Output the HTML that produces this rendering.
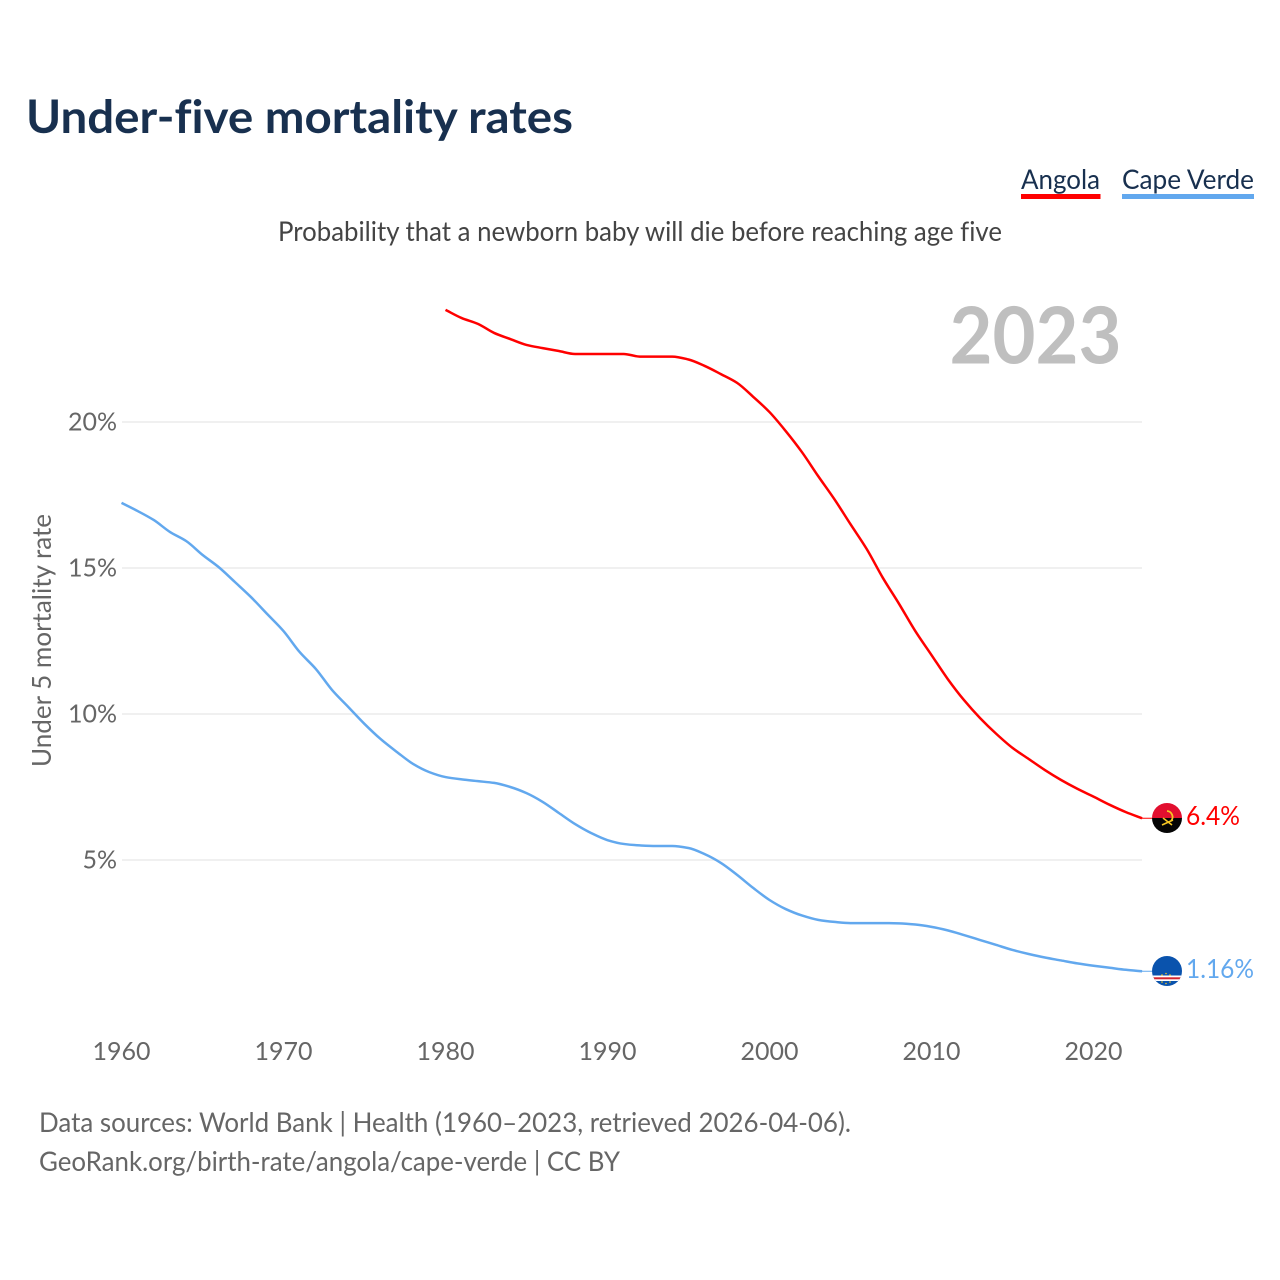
<!DOCTYPE html>
<html>
<head>
<meta charset="utf-8">
<title>Under-five mortality rates</title>
<style>
html,body{margin:0;padding:0;background:#fff;width:1280px;height:1280px;overflow:hidden}
svg{display:block}
text{font-family:"Lato","Carlito","Liberation Sans",sans-serif;font-variant-ligatures:none}
</style>
</head>
<body>
<svg id="chart" width="1280" height="1280" viewBox="0 0 1280 1280" xmlns="http://www.w3.org/2000/svg">
  <defs>
    <clipPath id="clip-ao"><circle cx="1167" cy="818" r="15"/></clipPath>
    <clipPath id="clip-cv"><circle cx="1167" cy="971" r="15"/></clipPath>
  </defs>
  <text x="26" y="133" font-size="46" font-weight="700" fill="#18304f" textLength="547" lengthAdjust="spacingAndGlyphs">Under-five mortality rates</text>
  <g>
    <g>
      <text x="1021" y="189" font-size="27" fill="#18304f" textLength="79" lengthAdjust="spacingAndGlyphs">Angola</text>
      <rect x="1021" y="194" width="79.500" height="5" fill="#ff0000"/>
    </g>
    <g>
      <text x="1122" y="189" font-size="27" fill="#18304f" textLength="132" lengthAdjust="spacingAndGlyphs">Cape Verde</text>
      <rect x="1122" y="194" width="132" height="5" fill="#62a8ee"/>
    </g>
  </g>
  <text x="278" y="241" font-size="27" fill="#444444" textLength="724" lengthAdjust="spacingAndGlyphs">Probability that a newborn baby will die before reaching age five</text>
  <text x="949.500" y="363.500" font-size="79" font-weight="700" fill="#bfbfbf" textLength="172" lengthAdjust="spacingAndGlyphs">2023</text>
  <text transform="translate(51,767) rotate(-90)" font-size="26" fill="#666666" textLength="253" lengthAdjust="spacingAndGlyphs">Under 5 mortality rate</text>
  <g id="grid"></g>
  <g id="yticks"></g>
  <g id="xticks"></g>
  <g id="series"></g>

  <g clip-path="url(#clip-ao)">
    <rect x="1150" y="801" width="34" height="17" fill="#e20f2f"/>
    <rect x="1150" y="818" width="34" height="17" fill="#050505"/>
    <path d="M1167 811 A6 6 0 0 1 1171 821" fill="none" stroke="#f5c623" stroke-width="1.800"/>
    <path d="M1162 825 L1173 820" stroke="#f5c623" stroke-width="1.600"/>
    <path d="M1163 818 L1172 825" stroke="#f5c623" stroke-width="1.600"/>
  </g>
  <g clip-path="url(#clip-cv)">
    <rect x="1150" y="954" width="34" height="34" fill="#0a53ad"/>
    <rect x="1150" y="975.500" width="34" height="5.500" fill="#ffffff"/>
    <rect x="1150" y="977.300" width="34" height="2" fill="#d3252f"/>
    <circle cx="1162" cy="975" r="0.800" fill="#f5c623"/>
    <circle cx="1166" cy="973.500" r="0.800" fill="#f5c623"/>
    <circle cx="1170" cy="975" r="0.800" fill="#f5c623"/>
    <circle cx="1162" cy="982" r="0.800" fill="#f5c623"/>
    <circle cx="1166" cy="983.500" r="0.800" fill="#f5c623"/>
    <circle cx="1170" cy="982" r="0.800" fill="#f5c623"/>
  </g>
  <text x="1186" y="825" font-size="26" fill="#ff0000" textLength="54" lengthAdjust="spacingAndGlyphs">6.4%</text>
  <text x="1186" y="978" font-size="26" fill="#62a8ee" textLength="68" lengthAdjust="spacingAndGlyphs">1.16%</text>

  <text x="39" y="1132" font-size="27" fill="#666666" textLength="812" lengthAdjust="spacingAndGlyphs">Data sources: World Bank | Health (1960–2023, retrieved 2026-04-06).</text>
  <text x="39" y="1171" font-size="27" fill="#666666" textLength="581" lengthAdjust="spacingAndGlyphs">GeoRank.org/birth-rate/angola/cape-verde | CC BY</text>
</svg>
<script>
const xTickYears = [1960, 1970, 1980, 1990, 2000, 2010, 2020];
const yTickValues = [5, 10, 15, 20];
const angolaStartYear = 1980;
const angolaValues = [23.84,23.56,23.36,23.05,22.84,22.64,22.53,22.43,22.33,22.33,22.33,22.33,22.24,22.24,22.24,22.14,21.92,21.64,21.34,20.86,20.34,19.69,18.97,18.15,17.36,16.5,15.65,14.66,13.77,12.84,12.02,11.2,10.48,9.86,9.32,8.84,8.46,8.08,7.74,7.44,7.17,6.89,6.64,6.43];
const capeVerdeStartYear = 1960;
const capeVerdeValues = [17.23,16.95,16.64,16.23,15.92,15.45,15.03,14.52,14.0,13.42,12.84,12.12,11.54,10.82,10.24,9.66,9.14,8.7,8.29,8.01,7.84,7.76,7.7,7.64,7.5,7.29,6.99,6.61,6.23,5.92,5.68,5.55,5.5,5.48,5.48,5.41,5.2,4.9,4.49,4.04,3.63,3.32,3.1,2.95,2.88,2.84,2.84,2.84,2.83,2.79,2.71,2.59,2.43,2.26,2.09,1.92,1.78,1.66,1.56,1.46,1.38,1.31,1.24,1.19];

const NS = 'http://www.w3.org/2000/svg';
function xScale(year) { return 121.5 + (year - 1960) * 16.2; }
function yScale(value) { return 1006 - value * 29.2; }
function make(tag, attrs, parent, text) {
  const el = document.createElementNS(NS, tag);
  for (const key in attrs) el.setAttribute(key, attrs[key]);
  if (text !== undefined) el.textContent = text;
  parent.appendChild(el);
  return el;
}
const grid = document.getElementById('grid');
const yticks = document.getElementById('yticks');
const xticks = document.getElementById('xticks');
const series = document.getElementById('series');

yTickValues.forEach(function (v) {
  const line = make('line', {x1: 122, x2: 1142, y1: yScale(v), y2: yScale(v), stroke: '#ebebeb', 'stroke-width': 1.5}, grid);
  
  
  const label = make('text', {x: 117, y: yScale(v) + 8.5, 'text-anchor': 'end', 'font-size': 25, fill: '#666666'}, yticks, v + '%');
  
  
});
xTickYears.forEach(function (y) {
  const label = make('text', {x: xScale(y), y: 1060, 'text-anchor': 'middle', 'font-size': 25, fill: '#666666'}, xticks, String(y));
  
  
});
/* Monotone cubic path through the data points */
function pathFrom(startYear, values) {
  const xs = values.map(function (v, i) { return xScale(startYear + i); });
  const ys = values.map(yScale);
  const n = xs.length;
  const d = [];
  for (let i = 0; i < n - 1; i++) d.push((ys[i + 1] - ys[i]) / (xs[i + 1] - xs[i]));
  const m = [d[0]];
  for (let i = 1; i < n - 1; i++) {
    m.push(d[i - 1] * d[i] <= 0 ? 0 : 2 * d[i - 1] * d[i] / (d[i - 1] + d[i]));
  }
  m.push(d[n - 2]);
  let out = 'M' + xs[0].toFixed(2) + ' ' + ys[0].toFixed(2);
  for (let i = 0; i < n - 1; i++) {
    const h = (xs[i + 1] - xs[i]) / 3;
    out += ' C' + (xs[i] + h).toFixed(2) + ' ' + (ys[i] + m[i] * h).toFixed(2) + ' ' +
      (xs[i + 1] - h).toFixed(2) + ' ' + (ys[i + 1] - m[i + 1] * h).toFixed(2) + ' ' +
      xs[i + 1].toFixed(2) + ' ' + ys[i + 1].toFixed(2);
  }
  return out;
}
const capeVerdeLine = make('path', {d: pathFrom(capeVerdeStartYear, capeVerdeValues), fill: 'none', stroke: '#62a8ee', 'stroke-width': 2.5, 'stroke-linejoin': 'round'}, series);


const angolaLine = make('path', {d: pathFrom(angolaStartYear, angolaValues), fill: 'none', stroke: '#ff0000', 'stroke-width': 2.5, 'stroke-linejoin': 'round'}, series);


const angolaStub = make('line', {x1: 1142, x2: 1152, y1: yScale(angolaValues[angolaValues.length - 1]), y2: yScale(angolaValues[angolaValues.length - 1]), stroke: '#ff0000', 'stroke-width': 1}, series);


const capeVerdeStub = make('line', {x1: 1142, x2: 1152, y1: yScale(capeVerdeValues[capeVerdeValues.length - 1]), y2: yScale(capeVerdeValues[capeVerdeValues.length - 1]), stroke: '#62a8ee', 'stroke-width': 1}, series);


</script>
</body>
</html>
